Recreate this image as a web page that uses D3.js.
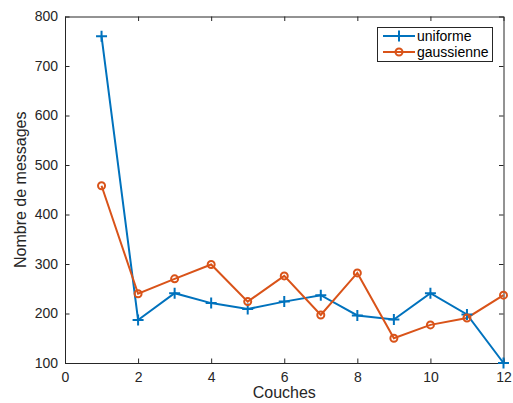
<!DOCTYPE html>
<html><head><meta charset="utf-8">
<script src="https://cdn.jsdelivr.net/npm/d3@7"></script>
<style>body{margin:0;background:#fff;} svg{display:block;font-family:"Liberation Sans",Arial,sans-serif;}</style>
</head><body><svg id="c" width="513" height="403"></svg>
<script>
const couches = [1,2,3,4,5,6,7,8,9,10,11,12];
const uniforme = [760,187,241,221,209,224,237,196,188,241,198,100];
const gaussienne = [458,240,270,299,224,276,197,282,150,177,191,237];
const xTicks = [0,2,4,6,8,10,12];
const yTicks = [100,200,300,400,500,600,700,800];
const seriesNames = ["uniforme","gaussienne"];
const colors = ["#0072BD","#D95319"];

const svg = d3.select("#c");
const L=65, R=503.5, T=16.5, B=363;
const x = d3.scaleLinear().domain([0,12]).range([L,R]);
const y = d3.scaleLinear().domain([100,800]).range([B,T]);
const axCol = "#262626";

const gx = svg.append("g").attr("transform",`translate(0,${B})`)
  .call(d3.axisBottom(x).tickValues(xTicks).tickSizeInner(-4.5).tickSizeOuter(0).tickPadding(9));
const gxt = svg.append("g").attr("transform",`translate(0,${T})`)
  .call(d3.axisTop(x).tickValues(xTicks).tickSizeInner(-4.5).tickSizeOuter(0).tickFormat(""));
const gy = svg.append("g").attr("transform",`translate(${L},0)`)
  .call(d3.axisLeft(y).tickValues(yTicks).tickSizeInner(-4.5).tickSizeOuter(0).tickPadding(7));
const gyr = svg.append("g").attr("transform",`translate(${R},0)`)
  .call(d3.axisRight(y).tickValues(yTicks).tickSizeInner(-4.5).tickSizeOuter(0).tickFormat(""));
[gx,gxt,gy,gyr].forEach(g=>{
  g.selectAll("path").attr("stroke",axCol).attr("stroke-width",1);
  g.selectAll("line").attr("stroke",axCol).attr("stroke-width",1);
  g.selectAll("text").attr("fill",axCol).attr("font-size",14).attr("font-family","Liberation Sans, Arial, sans-serif");
});

svg.append("text").attr("x",(L+R)/2).attr("y",398).attr("text-anchor","middle")
  .attr("fill",axCol).attr("font-size",16).text("Couches");
svg.append("text").attr("transform",`translate(26,${(T+B)/2}) rotate(-90)`).attr("text-anchor","middle")
  .attr("fill",axCol).attr("font-size",16).text("Nombre de messages");

const data = [uniforme, gaussienne];
const line = d3.line().x((d,i)=>x(couches[i])).y(d=>y(d));
data.forEach((vals,k)=>{
  svg.append("path").datum(vals).attr("d",line).attr("fill","none")
    .attr("stroke",colors[k]).attr("stroke-width",2);
});
function plus(g,cx,cy,col,s){
  g.append("path").attr("d",`M${cx-s},${cy}H${cx+s}M${cx},${cy-s}V${cy+s}`).attr("stroke",col).attr("stroke-width",2).attr("fill","none");
}
function circ(g,cx,cy,col,r){
  g.append("circle").attr("cx",cx).attr("cy",cy).attr("r",r).attr("fill","none").attr("stroke",col).attr("stroke-width",2);
}
uniforme.forEach((v,i)=>plus(svg,x(couches[i]),y(v),colors[0],5.5));
gaussienne.forEach((v,i)=>circ(svg,x(couches[i]),y(gaussienne[i]),colors[1],3.5));

// legend
const lg = svg.append("g");
lg.append("rect").attr("x",377.5).attr("y",27.5).attr("width",115).attr("height",34)
  .attr("fill","#fff").attr("stroke",axCol).attr("stroke-width",1);
seriesNames.forEach((n,k)=>{
  const ly = 36 + k*16;
  lg.append("line").attr("x1",383).attr("x2",415).attr("y1",ly).attr("y2",ly).attr("stroke",colors[k]).attr("stroke-width",2);
  if(k===0) plus(lg,399,ly,colors[0],5.5); else circ(lg,399,ly,colors[1],3.5);
  lg.append("text").attr("x",417).attr("y",ly+5).attr("font-size",14).attr("fill","#000").text(n);
});
</script></body></html>
